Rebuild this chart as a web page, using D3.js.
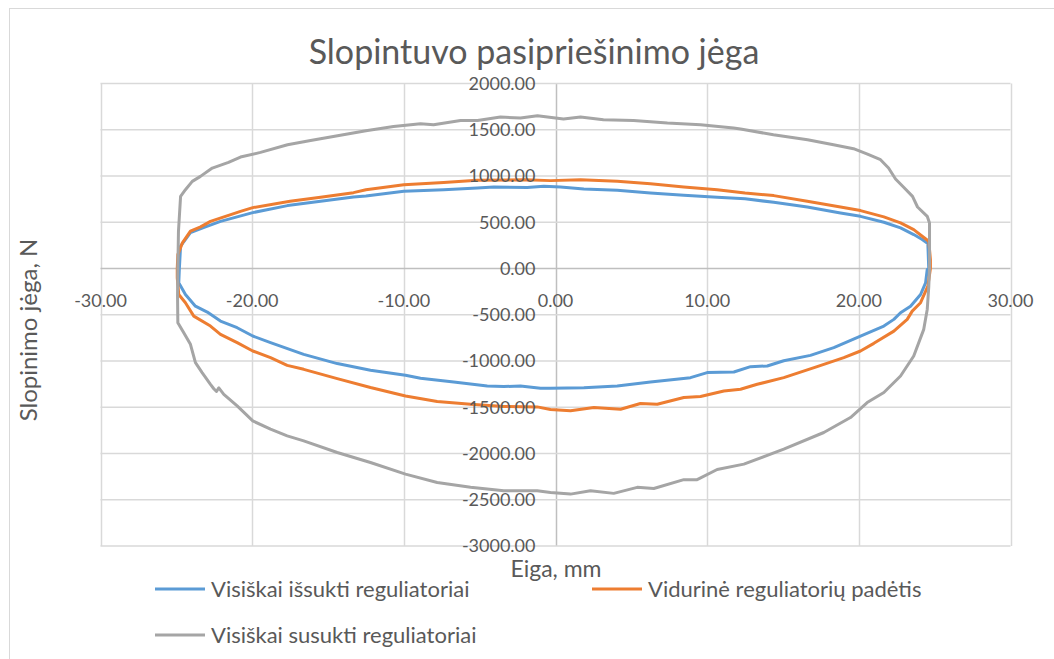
<!DOCTYPE html>
<html><head><meta charset="utf-8">
<script src="https://cdn.jsdelivr.net/npm/d3@7"></script>
<style>
html,body{margin:0;padding:0;background:#fff;}
svg text{font-family:Lato,"Open Sans",sans-serif;fill:#595959;}
</style></head>
<body>
<svg id="chart" width="1054" height="659"></svg>
<script>
const title = "Slopintuvo pasipriešinimo jėga";
const xTitle = "Eiga, mm";
const yTitle = "Slopinimo jėga, N";
const xTicks = [-30, -20, -10, 0, 10, 20, 30];
const yTicks = [2000, 1500, 1000, 500, 0, -500, -1000, -1500, -2000, -2500, -3000];
const seriesNames = ["Visiškai išsukti reguliatoriai", "Vidurinė reguliatorių padėtis", "Visiškai susukti reguliatoriai"];
const seriesColors = ["#5B9BD5", "#ED7D31", "#A5A5A5"];

const blue = [
 [-24.80,0],[-24.72,241],[-24.07,388],[-23.21,442],[-22.09,510],[-19.96,604],[-17.67,680],[-15.49,726],
 [-13.32,773],[-12.5,785],[-10.0,834],[-7.37,852],[-5.16,870],[-4.07,881],[-1.87,877],[-0.77,888],[0.33,881],
 [1.87,860],[4.07,845],[6.26,817],[8.46,791],[10.66,770],[12.5,754],[14.39,715],[16.6,665],[18.79,601],
 [20.11,564],[21.65,500],[22.75,439],[23.62,367],[24.18,313],[24.55,270],[24.61,0],
 [24.51,-11],[24.40,-155],[24.07,-281],[23.41,-407],[22.75,-478],[22.31,-550],[21.65,-622],[20.11,-730],
 [18.35,-856],[16.81,-939],[15.05,-997],[13.96,-1054],[12.86,-1061],[11.76,-1119],[10.0,-1125],[8.90,-1180],
 [6.26,-1227],[4.07,-1270],[1.87,-1288],[-0.33,-1295],[-0.99,-1295],[-2.31,-1270],[-3.41,-1276],[-4.50,-1270],
 [-6.71,-1227],[-8.90,-1187],[-9.89,-1154],[-12.20,-1100],[-14.39,-1028],[-16.60,-928],[-18.79,-802],
 [-19.96,-730],[-20.99,-640],[-22.09,-568],[-22.96,-471],[-23.74,-407],[-24.40,-281],[-24.84,-155],[-24.80,0]
];
const orange = [
 [-24.94,0],[-24.90,150],[-24.60,277],[-24.07,403],[-23.40,450],[-22.75,510],[-20.77,618],[-19.96,658],
 [-17.50,726],[-15.49,770],[-13.32,820],[-12.50,852],[-10.0,906],[-7.37,931],[-5.16,953],[-2.0,960],[-0.33,950],
 [1.65,960],[4.07,942],[6.26,917],[8.46,881],[10.66,852],[12.5,816],[14.39,788],[16.6,726],[18.79,665],
 [20.11,626],[21.65,558],[22.75,493],[23.62,421],[24.18,349],[24.61,295],[24.72,97],[24.72,0],
 [24.55,-191],[24.07,-370],[23.52,-461],[23.19,-550],[22.31,-677],[20.99,-809],[20.11,-892],[19.01,-964],
 [17.25,-1061],[15.05,-1180],[13.30,-1252],[12.20,-1306],[11.10,-1324],[9.56,-1384],[8.46,-1395],[6.71,-1467],
 [5.60,-1460],[4.29,-1521],[2.53,-1503],[0.99,-1539],[-0.33,-1525],[-1.21,-1496],[-3.41,-1492],[-5.60,-1467],
 [-7.80,-1438],[-9.89,-1378],[-12.20,-1287],[-14.39,-1190],[-16.60,-1090],[-17.69,-1047],[-18.79,-964],
 [-19.96,-892],[-20.99,-802],[-22.09,-712],[-22.75,-622],[-23.85,-515],[-24.40,-370],[-24.84,-281],[-24.94,-100],[-24.94,0]
];
const gray = [
 [-24.90,0],[-24.86,400],[-24.72,780],[-24.40,852],[-23.95,942],[-23.41,996],[-22.63,1086],[-21.56,1147],
 [-20.77,1205],[-19.45,1255],[-17.67,1338],[-16.15,1384],[-14.37,1435],[-12.5,1490],[-10.68,1536],[-8.90,1565],
 [-8.04,1554],[-6.26,1600],[-5.14,1600],[-3.63,1637],[-2.31,1626],[-1.19,1651],[0.53,1615],[1.65,1637],
 [3.16,1608],[5.14,1600],[7.38,1572],[9.56,1554],[11.74,1518],[12.2,1507],[14.37,1446],[16.62,1392],
 [18.33,1338],[19.65,1295],[20.57,1237],[21.43,1176],[21.96,1086],[22.42,968],[22.94,881],[23.54,780],
 [23.87,665],[24.51,564],[24.66,493],[24.66,0],
 [24.61,-200],[24.51,-442],[24.28,-658],[23.62,-946],[22.75,-1162],[21.65,-1341],[20.55,-1449],[19.45,-1611],
 [17.69,-1773],[15.05,-1953],[12.42,-2115],[10.66,-2173],[9.34,-2283],[8.46,-2283],[6.48,-2378],[5.39,-2366],
 [3.84,-2431],[2.31,-2403],[0.99,-2439],[-0.33,-2421],[-1.21,-2403],[-3.41,-2403],[-5.60,-2366],[-7.80,-2313],
 [-9.89,-2223],[-12.20,-2097],[-14.39,-1989],[-16.60,-1864],[-17.69,-1810],[-18.79,-1737],[-19.96,-1648],
 [-20.99,-1486],[-21.87,-1360],[-22.20,-1290],[-22.35,-1330],[-22.53,-1300],[-22.75,-1252],[-23.30,-1125],
 [-23.74,-1018],[-24.07,-820],[-24.51,-694],[-24.90,-586],[-24.92,-300],[-24.90,0]
];
const seriesData = [blue, orange, gray];

const svg = d3.select("#chart");
const W = 1054, H = 659;
const x = d3.scaleLinear().domain([-30, 30]).range([100.5, 1010.5]);
const y = d3.scaleLinear().domain([-3000, 2000]).range([546, 83.5]);
const fmt = d => d.toFixed(2);

// chart border
svg.append("rect").attr("x", 9.5).attr("y", 8.5).attr("width", W + 20).attr("height", H + 20)
  .attr("fill", "#fff").attr("stroke", "#d9d9d9").attr("stroke-width", 1);

// grid
const g = svg.append("g");
g.selectAll("line.vg").data(xTicks).join("line").attr("class", "vg")
  .attr("x1", d => Math.round(x(d)) + 0.5).attr("x2", d => Math.round(x(d)) + 0.5)
  .attr("y1", y(2000)).attr("y2", y(-3000))
  .attr("stroke", d => d === 0 ? "#bfbfbf" : "#d9d9d9").attr("stroke-width", 1.5);
g.selectAll("line.hg").data(yTicks).join("line").attr("class", "hg")
  .attr("y1", d => y(d)).attr("y2", d => y(d))
  .attr("x1", x(-30)).attr("x2", x(30))
  .attr("stroke", d => d === 0 ? "#bfbfbf" : "#d9d9d9").attr("stroke-width", 1.5);

// series
const line = d3.line().x(d => x(d[0])).y(d => y(d[1]));
svg.selectAll("path.s").data(seriesData).join("path").attr("class", "s")
  .attr("d", line).attr("fill", "none")
  .attr("stroke", (d, i) => seriesColors[i]).attr("stroke-width", 3)
  .attr("stroke-linejoin", "round").attr("stroke-linecap", "round");

// tick labels
svg.selectAll("text.yt").data(yTicks).join("text").attr("class", "yt")
  .attr("x", x(0) - 20).attr("y", d => y(d)).attr("dy", "0.35em")
  .attr("text-anchor", "end").attr("font-size", 18).text(fmt);
svg.selectAll("text.xt").data(xTicks).join("text").attr("class", "xt")
  .attr("x", d => x(d)).attr("y", y(0) + 38)
  .attr("text-anchor", "middle").attr("font-size", 18).text(fmt);

// titles
svg.append("text").attr("x", 534).attr("y", 64).attr("text-anchor", "middle")
  .attr("font-size", 34).text(title);
svg.append("text").attr("x", 556).attr("y", 577).attr("text-anchor", "middle")
  .attr("font-size", 23).text(xTitle);
svg.append("text").attr("transform", "translate(37,330) rotate(-90)").attr("text-anchor", "middle")
  .attr("font-size", 24).text(yTitle);

// legend
const legendPos = [[155, 589], [592, 589], [155, 635]];
const lg = svg.selectAll("g.lg").data(seriesNames).join("g").attr("class", "lg")
  .attr("transform", (d, i) => `translate(${legendPos[i][0]},${legendPos[i][1]})`);
lg.append("line").attr("x1", 0).attr("x2", 50).attr("y1", 0).attr("y2", 0)
  .attr("stroke", (d, i) => seriesColors[i]).attr("stroke-width", 3);
lg.append("text").attr("x", 56).attr("y", 0).attr("dy", "0.35em").attr("font-size", 22).text(d => d);
</script>
</body></html>
